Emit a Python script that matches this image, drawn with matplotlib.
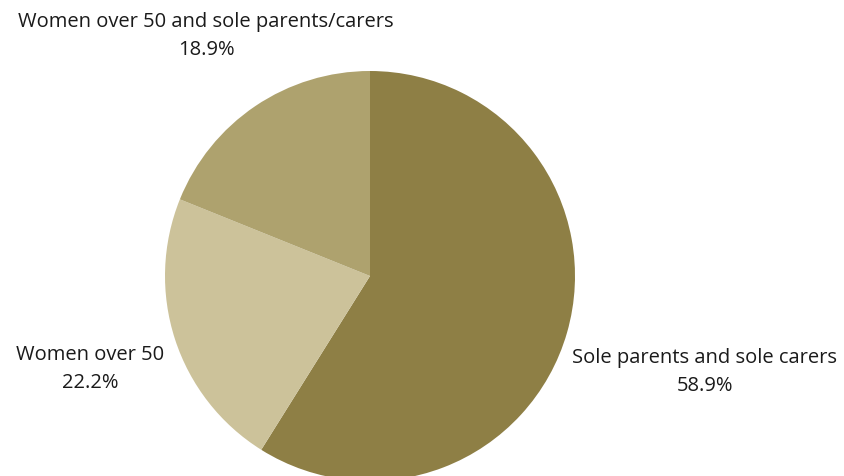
import matplotlib.pyplot as plt

# slice data, clockwise from 12 o'clock
labels = ['Sole parents and sole carers', 'Women over 50', 'Women over 50 and sole parents/carers']
shares = [58.9, 22.2, 18.9]
colors = ['#8e7f45', '#ccc29a', '#aea26e']

# where each label sits (pixels from top-left)
label_pos = [(705, 372), (90, 369), (206, 36)]

fig = plt.figure(figsize=(8.44, 4.76), dpi=100)
ax = fig.add_axes([0, 0, 1, 1])

ax.pie(shares, colors=colors, startangle=90, counterclock=False,
       center=(370, 476 - 276), radius=205, frame=True,
       wedgeprops={'linewidth': 0})
ax.set_xlim(0, 844)
ax.set_ylim(0, 476)
ax.set_aspect('equal')
ax.axis('off')

for lab, val, (x, y) in zip(labels, shares, label_pos):
    ax.text(x, 476 - y, f'{lab}\n{val:.1f}%', ha='center', va='center',
            multialignment='center', fontsize=14.5, family='Open Sans',
            color='#1a1a1a', linespacing=1.55)

fig.savefig('out.png', dpi=100)
